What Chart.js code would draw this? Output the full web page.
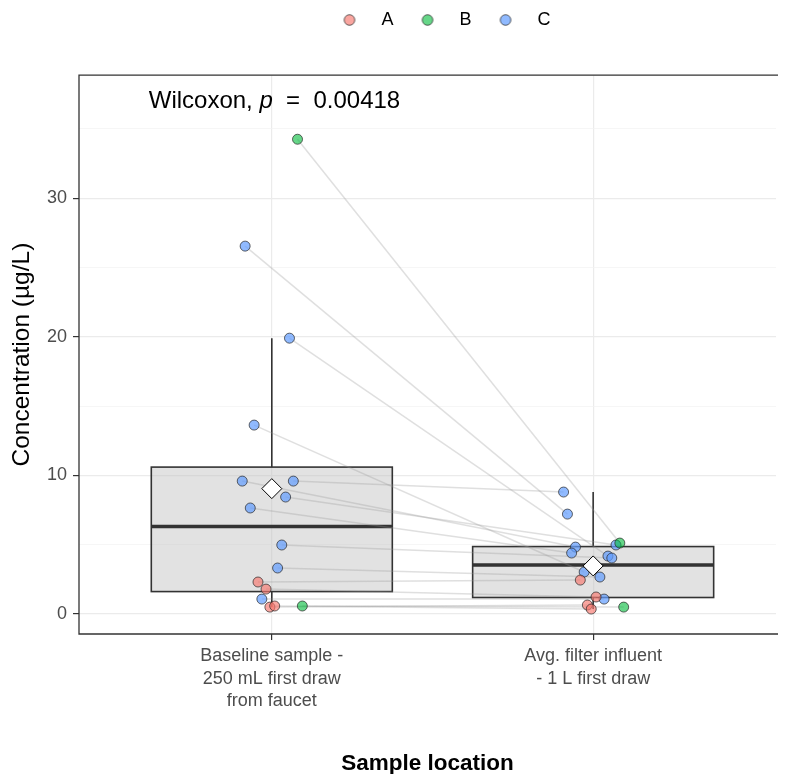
<!DOCTYPE html>
<html>
<head>
<meta charset="utf-8">
<script src="https://cdn.jsdelivr.net/npm/chart.js@4.4.1/dist/chart.umd.min.js"></script>
<style>
  html, body { margin: 0; padding: 0; background: #fff; overflow: hidden; }
  canvas { display: block; }
</style>
</head>
<body>
<canvas id="chart" width="787" height="774" style="width:787px;height:774px"></canvas>
<script>
// categories on the x axis (multi-line tick labels)
const categories = [
  ['Baseline sample -', '250 mL first draw', 'from faucet'],
  ['Avg. filter influent', '- 1 L first draw'],
];
const groups = ['A', 'B', 'C'];

// one entry per sampled site: group, baseline value, influent value (µg/L)
const siteGroup = ['B', 'C', 'C', 'C', 'C', 'C', 'C', 'C', 'C', 'C', 'C', 'A', 'A', 'A', 'A', 'B'];
const baseline  = [34.25, 26.54, 19.90, 13.63, 9.59, 9.59, 8.44, 7.65, 4.98, 3.32, 1.08, 2.31, 1.80, 0.50, 0.58, 0.58];
const influent  = [5.12, 7.21, 4.18, 3.03, 4.83, 8.80, 4.98, 4.40, 4.04, 2.67, 1.08, 2.45, 1.23, 0.65, 0.36, 0.50];
// horizontal jitter (category units)
const jitterBaseline = [0.080, -0.083, 0.055, -0.055, -0.092, 0.067, 0.043, -0.067, 0.031, 0.018, -0.031, -0.043, -0.018, -0.006, 0.009, 0.095];
const jitterInfluent = [0.083, -0.080, 0.046, -0.028, -0.055, -0.092, 0.071, -0.067, 0.058, 0.021, 0.034, -0.040, 0.009, -0.018, -0.006, 0.095];

const yTicks = [0, 5, 10, 15, 20, 25, 30, 35];
const yMin = -1.44, yMax = 38.87;
// the original panel runs to 2.6 but the picture is cut at the right edge
const xMin = 0.4, xMax = 2.569;
const pValue = '0.00418';

const FONT = '"Liberation Sans", Arial, Helvetica, sans-serif';
const BOX_WIDTH = 0.75;
const groupFill   = { A: 'rgba(248,118,109,0.65)', B: 'rgba(0,186,56,0.6)', C: 'rgba(97,156,255,0.7)' };
const groupBorder = 'rgba(40,40,40,0.7)';

Chart.defaults.font.family = FONT;

function quantile(sorted, p) {
  const h = (sorted.length - 1) * p;
  const lo = Math.floor(h);
  return sorted[lo] + (h - lo) * ((sorted[lo + 1] ?? sorted[lo]) - sorted[lo]);
}

function boxStats(values) {
  const s = [...values].sort((a, b) => a - b);
  const q1 = quantile(s, 0.25), med = quantile(s, 0.5), q3 = quantile(s, 0.75);
  const iqr = q3 - q1;
  const inside = s.filter((v) => v >= q1 - 1.5 * iqr && v <= q3 + 1.5 * iqr);
  return {
    q1, med, q3,
    lo: inside[0], hi: inside[inside.length - 1],
    mean: s.reduce((a, b) => a + b, 0) / s.length,
  };
}

const stats = [boxStats(baseline), boxStats(influent)];

function legendDot(color) {
  const c = document.createElement('canvas');
  c.width = 14; c.height = 14;
  const g = c.getContext('2d');
  g.beginPath();
  g.arc(7, 7, 5.3, 0, Math.PI * 2);
  g.fillStyle = color; g.fill();
  g.lineWidth = 1; g.strokeStyle = groupBorder; g.stroke();
  return c;
}

const pairSets = siteGroup.map((g, i) => ({
  type: 'line',
  label: '_pair',
  data: [{ x: 1 + jitterBaseline[i], y: baseline[i] }, { x: 2 + jitterInfluent[i], y: influent[i] }],
  borderColor: 'rgba(150,150,150,0.3)',
  borderWidth: 1.5,
  pointRadius: 0,
  order: 2,
}));

const pointSets = groups.map((g) => {
  const pts = [];
  siteGroup.forEach((sg, i) => {
    if (sg !== g) return;
    pts.push({ x: 1 + jitterBaseline[i], y: baseline[i] });
    pts.push({ x: 2 + jitterInfluent[i], y: influent[i] });
  });
  return {
    type: 'scatter', label: g, data: pts,
    backgroundColor: groupFill[g], borderColor: groupBorder, borderWidth: 1,
    pointRadius: 5, order: 1,
  };
});

const meanSet = {
  type: 'scatter', label: '_mean',
  data: stats.map((s, i) => ({ x: i + 1, y: s.mean })),
  pointStyle: 'rectRot', pointRadius: 10,
  backgroundColor: '#fff', borderColor: '#000', borderWidth: 1, order: 0,
};

const boxPlugin = {
  id: 'boxes',
  afterLayout(chart) {
    // legend sits a little right of centre in the original
    chart.legend.left += 45;
    chart.legend.right += 45;
  },
  beforeDatasetsDraw(chart) {
    const { ctx, scales: { x, y } } = chart;
    stats.forEach((s, i) => {
      const cx = x.getPixelForValue(i + 1);
      const half = x.getPixelForValue(i + 1 + BOX_WIDTH / 2) - cx;
      const top = y.getPixelForValue(s.q3), bot = y.getPixelForValue(s.q1);
      ctx.save();
      ctx.strokeStyle = '#333';
      ctx.lineWidth = 1.6;
      ctx.beginPath();
      ctx.moveTo(cx, top); ctx.lineTo(cx, y.getPixelForValue(s.hi));
      ctx.moveTo(cx, bot); ctx.lineTo(cx, y.getPixelForValue(s.lo));
      ctx.stroke();
      ctx.fillStyle = 'rgba(190,190,190,0.45)';
      ctx.fillRect(cx - half, top, 2 * half, bot - top);
      ctx.strokeRect(cx - half, top, 2 * half, bot - top);
      const my = y.getPixelForValue(s.med);
      ctx.lineWidth = 3.6;
      ctx.beginPath(); ctx.moveTo(cx - half, my); ctx.lineTo(cx + half, my); ctx.stroke();
      ctx.restore();
    });
  },
  afterDatasetsDraw(chart) {
    const { ctx, chartArea: a, scales: { x, y } } = chart;
    ctx.save();
    // Wilcoxon label
    let tx = x.getPixelForValue(0.617);
    const ty = y.getPixelForValue(36.49);
    ctx.fillStyle = '#000';
    ctx.textBaseline = 'alphabetic';
    ctx.textAlign = 'left';
    const parts = [['Wilcoxon, ', 'normal'], ['p', 'italic'], ['  =  ', 'normal'], [pValue, 'normal']];
    parts.forEach(([t, style]) => {
      ctx.font = `${style} 24px ${FONT}`;
      ctx.fillText(t, tx, ty);
      tx += ctx.measureText(t).width;
    });
    // panel border (right side falls outside the picture)
    ctx.strokeStyle = '#333';
    ctx.lineWidth = 1.3;
    ctx.beginPath();
    ctx.moveTo(a.right + 2, a.top); ctx.lineTo(a.left, a.top);
    ctx.lineTo(a.left, a.bottom); ctx.lineTo(a.right + 2, a.bottom);
    ctx.stroke();
    ctx.restore();
  },
};

new Chart(document.getElementById('chart'), {
  type: 'scatter',
  data: { datasets: [...pairSets, ...pointSets, meanSet] },
  options: {
    responsive: false,
    animation: false,
    layout: { padding: { left: 0, right: 0, top: 0, bottom: 0 } },
    plugins: {
      tooltip: { enabled: false },
      title: { display: true, text: '', weight: 500, font: { size: 1 }, padding: { top: 35, bottom: 0 } },
      legend: {
        position: 'top',
        labels: {
          color: '#000',
          font: { size: 18, family: FONT },
          padding: 11,
          usePointStyle: true,
          pointStyleWidth: 46,
          boxHeight: 14,
          generateLabels: () => groups.map((g) => ({
            text: g, pointStyle: legendDot(groupFill[g]),
            fillStyle: groupFill[g], strokeStyle: groupBorder, lineWidth: 0, hidden: false,
            fontColor: '#000',
          })),
        },
      },
    },
    scales: {
      x: {
        type: 'linear', min: xMin, max: xMax,
        afterBuildTicks: (s) => { s.ticks = categories.map((c, i) => ({ value: i + 1 })); },
        afterFit: (s) => { s.height = 140; },
        ticks: {
          callback: (v) => categories[Math.round(v) - 1],
          color: '#4d4d4d', font: { size: 18, lineHeight: 1.25 }, padding: 5,
          maxRotation: 0, minRotation: 0, autoSkip: false,
        },
        grid: { color: '#ebebeb', lineWidth: 1.2, tickColor: '#333', tickLength: 6, tickWidth: 1.2 },
        border: { display: false },
        title: { display: true, text: 'Sample location', color: '#000', font: { size: 22.5, weight: 'bold' }, padding: { top: 0, bottom: -3 } },
      },
      y: {
        type: 'linear', min: yMin, max: yMax,
        afterBuildTicks: (s) => { s.ticks = yTicks.map((v) => ({ value: v })); },
        afterFit: (s) => { s.width = 79; },
        ticks: {
          callback: (v) => (v % 10 === 0 ? String(v) : ''),
          color: '#4d4d4d', font: { size: 18 }, padding: 6,
        },
        grid: {
          color: (c) => (c.tick && c.tick.value % 10 === 0 ? '#ebebeb' : '#f2f2f2'),
          lineWidth: (c) => (c.tick && c.tick.value % 10 === 0 ? 1.2 : 0.7),
          tickColor: (c) => (c.tick && c.tick.value % 10 === 0 ? '#333' : 'rgba(0,0,0,0)'),
          tickLength: 6, tickWidth: 1.2,
        },
        border: { display: false },
        title: { display: true, text: 'Concentration (µg/L)', color: '#000', font: { size: 24.5 }, padding: { top: 8, bottom: 0 } },
      },
    },
  },
  plugins: [boxPlugin],
});
</script>
</body>
</html>
